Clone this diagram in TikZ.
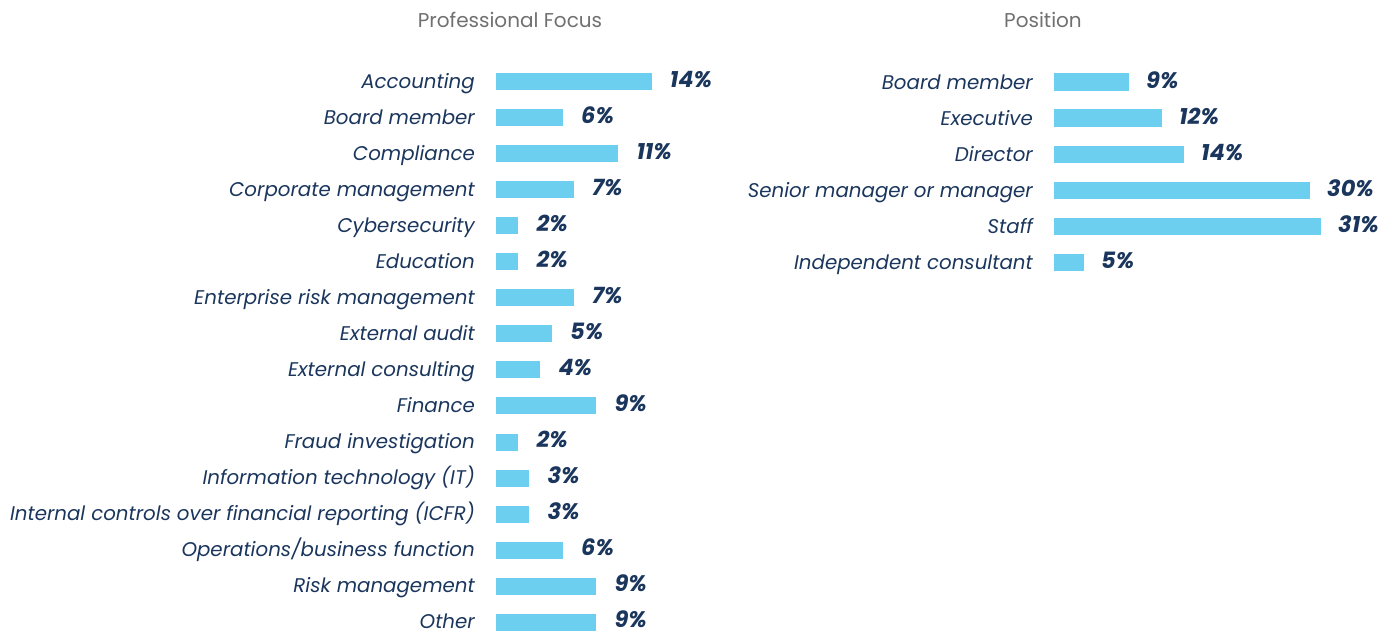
\documentclass[tikz,border=0pt]{standalone}
\usepackage{fontspec}
\setmainfont{Poppins}
\usetikzlibrary{positioning}
\definecolor{barblue}{HTML}{6DCFF0}
\definecolor{navy}{HTML}{1B365D}
\definecolor{titlegray}{HTML}{707070}
\tikzset{
  lab/.style={anchor=base east,inner sep=0pt,text=navy,font=\fontsize{19.8}{23}\selectfont\itshape},
  val/.style={anchor=base west,inner sep=0pt,text=navy,font=\fontsize{22.5}{26}\selectfont\bfseries\itshape},
  ttl/.style={anchor=base,inner sep=0pt,text=titlegray,font=\fontsize{20}{24}\selectfont},
  bar/.style={fill=barblue}
}
\begin{document}
\begin{tikzpicture}[x=1pt,y=-1pt]
    \useasboundingbox (0,0) rectangle (1400,632);
    \node[ttl] (pf) at (510,27) {Professional Focus};
    \node[ttl] (pos) at (1043,27) {Position};
    % Professional Focus
    \node[lab] (acc) at (475,88) {Accounting};
    \fill[bar] (496,72.5) rectangle (651.7,89.5);
    \node[val] (acc-v) at (669.7,87) {14\%};
    \node[lab] (brd) at (475,124) {Board member};
    \fill[bar] (496,108.6) rectangle (563,125.6);
    \node[val] (brd-v) at (581,123) {6\%};
    \node[lab] (cmp) at (475,160) {Compliance};
    \fill[bar] (496,144.7) rectangle (618.3,161.7);
    \node[val] (cmp-v) at (636.3,159) {11\%};
    \node[lab] (cor) at (475,196) {Corporate management};
    \fill[bar] (496,180.8) rectangle (574,197.8);
    \node[val] (cor-v) at (592,195) {7\%};
    \node[lab] (cyb) at (475,232) {Cybersecurity};
    \fill[bar] (496,216.9) rectangle (518.3,233.9);
    \node[val] (cyb-v) at (536.3,231) {2\%};
    \node[lab] (edu) at (475,268) {Education};
    \fill[bar] (496,253) rectangle (518.3,270);
    \node[val] (edu-v) at (536.3,267) {2\%};
    \node[lab] (erm) at (475,304) {Enterprise risk management};
    \fill[bar] (496,289.1) rectangle (574,306.1);
    \node[val] (erm-v) at (592,303) {7\%};
    \node[lab] (aud) at (475,340) {External audit};
    \fill[bar] (496,325.2) rectangle (552,342.2);
    \node[val] (aud-v) at (570,339) {5\%};
    \node[lab] (con) at (475,376) {External consulting};
    \fill[bar] (496,361.3) rectangle (540.3,378.3);
    \node[val] (con-v) at (558.3,375) {4\%};
    \node[lab] (fin) at (475,412) {Finance};
    \fill[bar] (496,397.4) rectangle (596.3,414.4);
    \node[val] (fin-v) at (614.3,411) {9\%};
    \node[lab] (frd) at (475,448) {Fraud investigation};
    \fill[bar] (496,433.5) rectangle (518.3,450.5);
    \node[val] (frd-v) at (536.3,447) {2\%};
    \node[lab] (it) at (475,484) {Information technology (IT)};
    \fill[bar] (496,469.6) rectangle (529.3,486.6);
    \node[val] (it-v) at (547.3,483) {3\%};
    \node[lab] (icf) at (475,520) {Internal controls over financial reporting (ICFR)};
    \fill[bar] (496,505.7) rectangle (529.3,522.7);
    \node[val] (icf-v) at (547.3,519) {3\%};
    \node[lab] (ops) at (475,556) {Operations/business function};
    \fill[bar] (496,541.8) rectangle (563,558.8);
    \node[val] (ops-v) at (581,555) {6\%};
    \node[lab] (rsk) at (475,592) {Risk management};
    \fill[bar] (496,577.9) rectangle (596.3,594.9);
    \node[val] (rsk-v) at (614.3,591) {9\%};
    \node[lab] (oth) at (475,628) {Other};
    \fill[bar] (496,614) rectangle (596.3,631);
    \node[val] (oth-v) at (614.3,627) {9\%};
    % Position
    \node[lab] (p-brd) at (1033,89) {Board member};
    \fill[bar] (1054,73.3) rectangle (1129,90.7);
    \node[val] (p-brd-v) at (1146,88) {9\%};
    \node[lab] (p-exe) at (1033,125) {Executive};
    \fill[bar] (1054,109.4) rectangle (1162,126.8);
    \node[val] (p-exe-v) at (1179,124) {12\%};
    \node[lab] (p-dir) at (1033,161) {Director};
    \fill[bar] (1054,145.5) rectangle (1184,162.9);
    \node[val] (p-dir-v) at (1201,160) {14\%};
    \node[lab] (p-sen) at (1033,197) {Senior manager or manager};
    \fill[bar] (1054,181.6) rectangle (1310,199);
    \node[val] (p-sen-v) at (1327,196) {30\%};
    \node[lab] (p-stf) at (1033,233) {Staff};
    \fill[bar] (1054,217.7) rectangle (1321,235.1);
    \node[val] (p-stf-v) at (1338,232) {31\%};
    \node[lab] (p-ind) at (1033,269) {Independent consultant};
    \fill[bar] (1054,253.8) rectangle (1084,271.2);
    \node[val] (p-ind-v) at (1101,268) {5\%};
\end{tikzpicture}
\end{document}
